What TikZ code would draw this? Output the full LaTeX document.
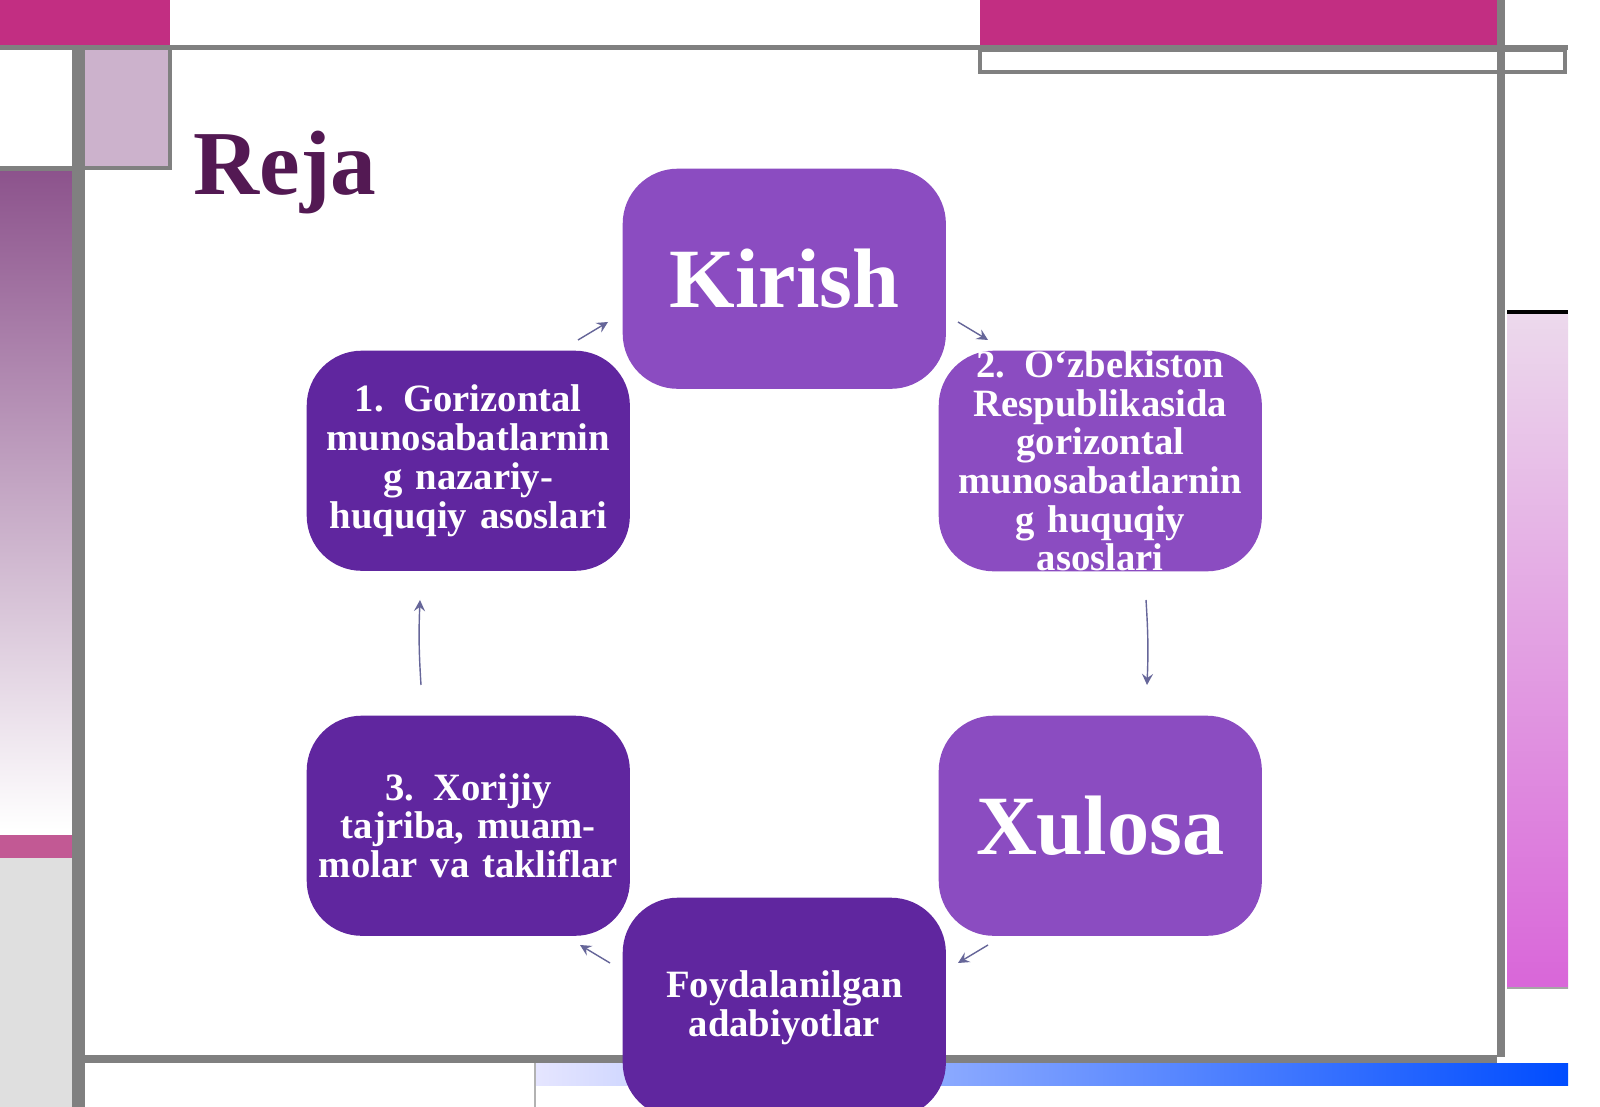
\documentclass[tikz,border=0pt]{standalone}
\usepackage{fontspec}
\setmainfont{Liberation Serif}
\begin{document}
\begin{tikzpicture}[x=0.01cm,y=-0.01cm,
 box/.style={rounded corners=0.55cm,minimum width=3.23cm,minimum height=2.2cm,anchor=north west,text=white,font=\bfseries\fontsize{11}{11}\selectfont,align=center,text width=3.0cm,inner sep=0pt},
 big/.style={font=\bfseries\fontsize{24}{26}\selectfont},
 arr/.style={->,>=stealth,draw=gray!80!blue,line width=0.4pt,shorten >=0pt}]
\useasboundingbox (0,0) rectangle (1600,1107);
\fill[white] (0,0) rectangle (1600,1107);
% top bars
\fill[magenta!55!violet] (0,0) rectangle (170,45);
\fill[magenta!55!violet] (980,0) rectangle (1497,45);
\fill[gray] (0,45) rectangle (1568,50);
\draw[gray,line width=1.2pt] (980,50) rectangle (1565,72);
% right
\fill[gray] (1497,0) rectangle (1505,1057);
\draw[black,line width=1.5pt] (1507,313) -- (1568,313);
\shade[top color=violet!15,bottom color=magenta!50!violet!60] (1507,315) rectangle (1568,988);
\draw[gray!70] (1507,988) -- (1568,988);
% left
\fill[gray!50!violet!40] (85,50) rectangle (170,168);
\draw[gray,line width=1pt] (85,168) -- (170,168) -- (170,50);
\shade[top color=violet!50!gray!90,bottom color=white] (0,170) rectangle (72,830);
\fill[gray] (72,50) rectangle (85,1107);
\fill[gray] (0,166) rectangle (85,171);
\fill[magenta!40!violet!80] (0,835) rectangle (72,858);
\fill[gray!25] (0,858) rectangle (72,1107);
% bottom
\fill[gray] (85,1055) rectangle (1497,1063);
\shade[left color=blue!10,right color=blue!70!cyan] (535,1063) rectangle (1568,1085);
\draw[gray!60] (535,1063) -- (535,1107);
% title
\node[anchor=base west,text=violet!50!black!90,font=\bfseries\fontsize{26}{26}\selectfont,inner sep=0] (t) at (193,195) {Reja};
% boxes
\node[box,fill=violet!70!blue!70] (k) at (622,168) {\fontsize{24}{26}\selectfont Kirish};
\node[box,fill=violet!65!blue!70!gray] (b1) at (306,350) {1. Gorizontal munosabatlarnin g nazariy-huquqiy asoslari};
\node[box,fill=violet!70!blue!70] (b2) at (938,350) {2. O‘zbekiston Respublikasida gorizontal munosabatlarnin g huquqiy asoslari};
\node[box,fill=violet!65!blue!70!gray] (b3) at (306,715) {3. Xorijiy tajriba, muammolar va takliflar};
\node[box,fill=violet!70!blue!70] (x) at (938,715) {\fontsize{24}{26}\selectfont Xulosa};
\begin{scope}
\clip (0,0) rectangle (1600,1107);
\node[box,fill=violet!65!blue!70!gray] (f) at (622,897) {Foydalanilgan adabiyotlar};
\end{scope}
% arrows
\coordinate (a1) at (958,322); \coordinate (a2) at (988,340);
\coordinate (c1) at (1146,600); \coordinate (c2) at (1147,685);
\coordinate (d1) at (988,945); \coordinate (d2) at (958,963);
\coordinate (e1) at (610,963); \coordinate (e2) at (580,945);
\coordinate (g1) at (421,685); \coordinate (g2) at (420,600);
\coordinate (h1) at (578,340); \coordinate (h2) at (608,322);
\draw[arr] (a1) -- (a2);
\draw[arr] (c1) to[bend left=3] (c2);
\draw[arr] (d1) -- (d2);
\draw[arr] (e1) -- (e2);
\draw[arr] (g1) to[bend left=3] (g2);
\draw[arr] (h1) -- (h2);
\end{tikzpicture}
\end{document}
